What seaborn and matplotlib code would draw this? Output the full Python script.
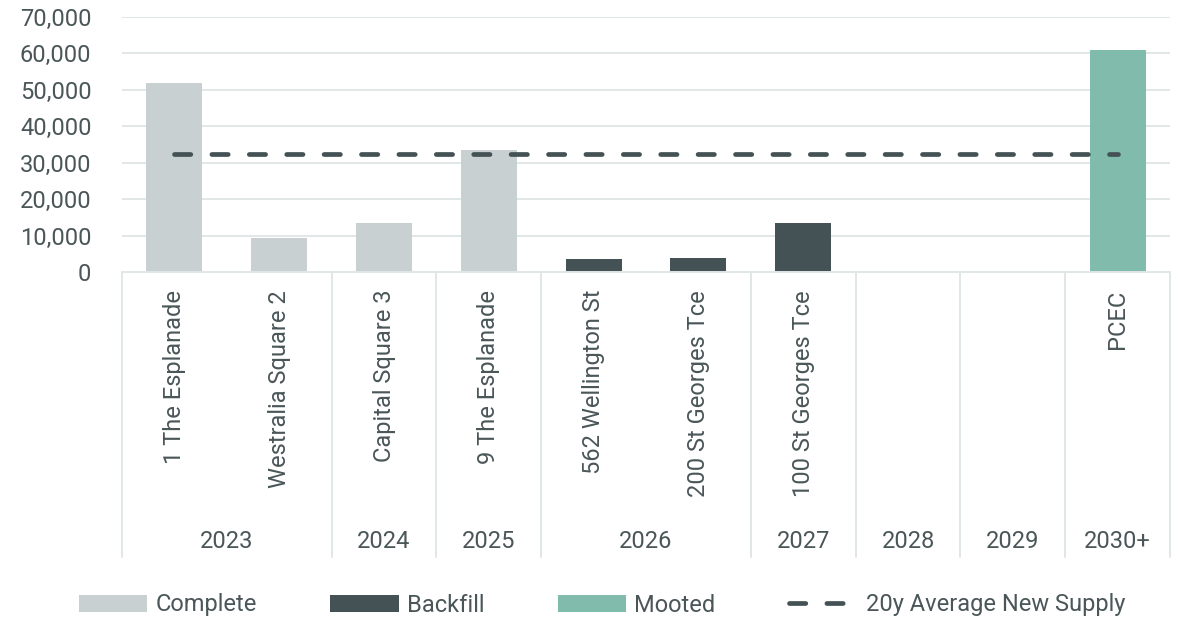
import matplotlib
matplotlib.use("Agg")
import matplotlib.pyplot as plt
import matplotlib.transforms as mtransforms
from matplotlib.patches import Patch
from matplotlib.lines import Line2D
from matplotlib.ticker import FuncFormatter
import seaborn as sns
import pandas as pd

# ---- data ----
buildings = ["1 The Esplanade", "Westralia Square 2", "Capital Square 3", "9 The Esplanade",
             "562 Wellington St", "200 St Georges Tce", "100 St Georges Tce", "", " ", "PCEC"]
supply = [52000, 9400, 13500, 33500, 3600, 3900, 13400, 0, 0, 61000]
status = ["Complete", "Complete", "Complete", "Complete",
          "Backfill", "Backfill", "Backfill", "Complete", "Complete", "Mooted"]
years = ["2023", "2024", "2025", "2026", "2027", "2028", "2029", "2030+"]
year_counts = [2, 1, 1, 2, 1, 1, 1, 1]
avg_supply = 32400
status_order = ["Complete", "Backfill", "Mooted"]
avg_label = "20y Average New Supply"

# ---- style ----
TEXT = "#4a5658"
GRID = "#e1e6e6"
palette = {"Complete": "#c8d0d1", "Backfill": "#445255", "Mooted": "#80bbac"}
LINE = "#445255"
DASH = (3.45, 4.47)

sns.set_theme(style="white")
plt.rcParams["font.family"] = ["Roboto", "DejaVu Sans"]
FS = 17

df = pd.DataFrame({"building": buildings, "supply": supply, "status": status})

W, H = 1178, 618
fig = plt.figure(figsize=(W / 100, H / 100), dpi=100)
ax_left, ax_right, ax_top, ax_bottom = 122, 1170, 17, 272
ax = fig.add_axes([ax_left / W, 1 - ax_bottom / H, (ax_right - ax_left) / W, (ax_bottom - ax_top) / H])
axh = ax_bottom - ax_top

sns.barplot(data=df, x="building", y="supply", hue="status", order=buildings,
            hue_order=status_order, palette=palette, dodge=False, width=0.535,
            saturation=1, legend=False, ax=ax, zorder=2, linewidth=0)

n = len(buildings)
ax.plot([0, n - 1], [avg_supply, avg_supply], color=LINE, lw=3.4,
        dashes=DASH, dash_capstyle="round", zorder=4)

ax.set_xlim(-0.5, n - 0.5)
ax.set_ylim(0, 70000)
ax.set_yticks(range(0, 70001, 10000))
ax.yaxis.set_major_formatter(FuncFormatter(lambda v, p: f"{v:,.0f}"))
ax.yaxis.grid(True, color=GRID, lw=1.4)
ax.set_axisbelow(True)
ax.tick_params(axis="y", length=0, pad=22, labelsize=FS, labelcolor=TEXT)
ax.set_xticks([])
ax.set_xlabel("")
ax.set_ylabel("")
for s in ["left", "right", "top"]:
    ax.spines[s].set_visible(False)
ax.spines["bottom"].set_color(GRID)
ax.spines["bottom"].set_linewidth(1.4)

trans = mtransforms.blended_transform_factory(ax.transData, ax.transAxes)

# building labels
for i, name in enumerate(buildings):
    if name.strip():
        ax.text(i, -18 / axh, name, rotation=90, ha="center", va="top",
                transform=trans, fontsize=FS, color=TEXT)

# group dividers and year labels
div_bottom = -(557 - ax_bottom) / axh
bounds = [-0.5]
pos = -0.5
for c in year_counts:
    pos += c
    bounds.append(pos)
for b in bounds:
    ax.plot([b, b], [0, div_bottom], transform=trans, clip_on=False, color=GRID, lw=1.4)
for k, yr in enumerate(years):
    cx = (bounds[k] + bounds[k + 1]) / 2
    ax.text(cx, -(542 - ax_bottom) / axh, yr, ha="center", va="center",
            transform=trans, fontsize=FS, color=TEXT)

# legend
handles = [Patch(facecolor=palette[s], edgecolor="none") for s in status_order]
handles.append(Line2D([0], [0], color=LINE, lw=3.4, dashes=DASH, dash_capstyle="round"))
labels = status_order + [avg_label]
fig.legend(handles, labels, loc="center", bbox_to_anchor=(0.511, 1 - 605 / H), ncol=4,
           frameon=False, fontsize=FS, handlelength=2.9, handleheight=0.7,
           handletextpad=0.35, columnspacing=3.1, labelcolor=TEXT)

fig.savefig("out.png", dpi=100)
